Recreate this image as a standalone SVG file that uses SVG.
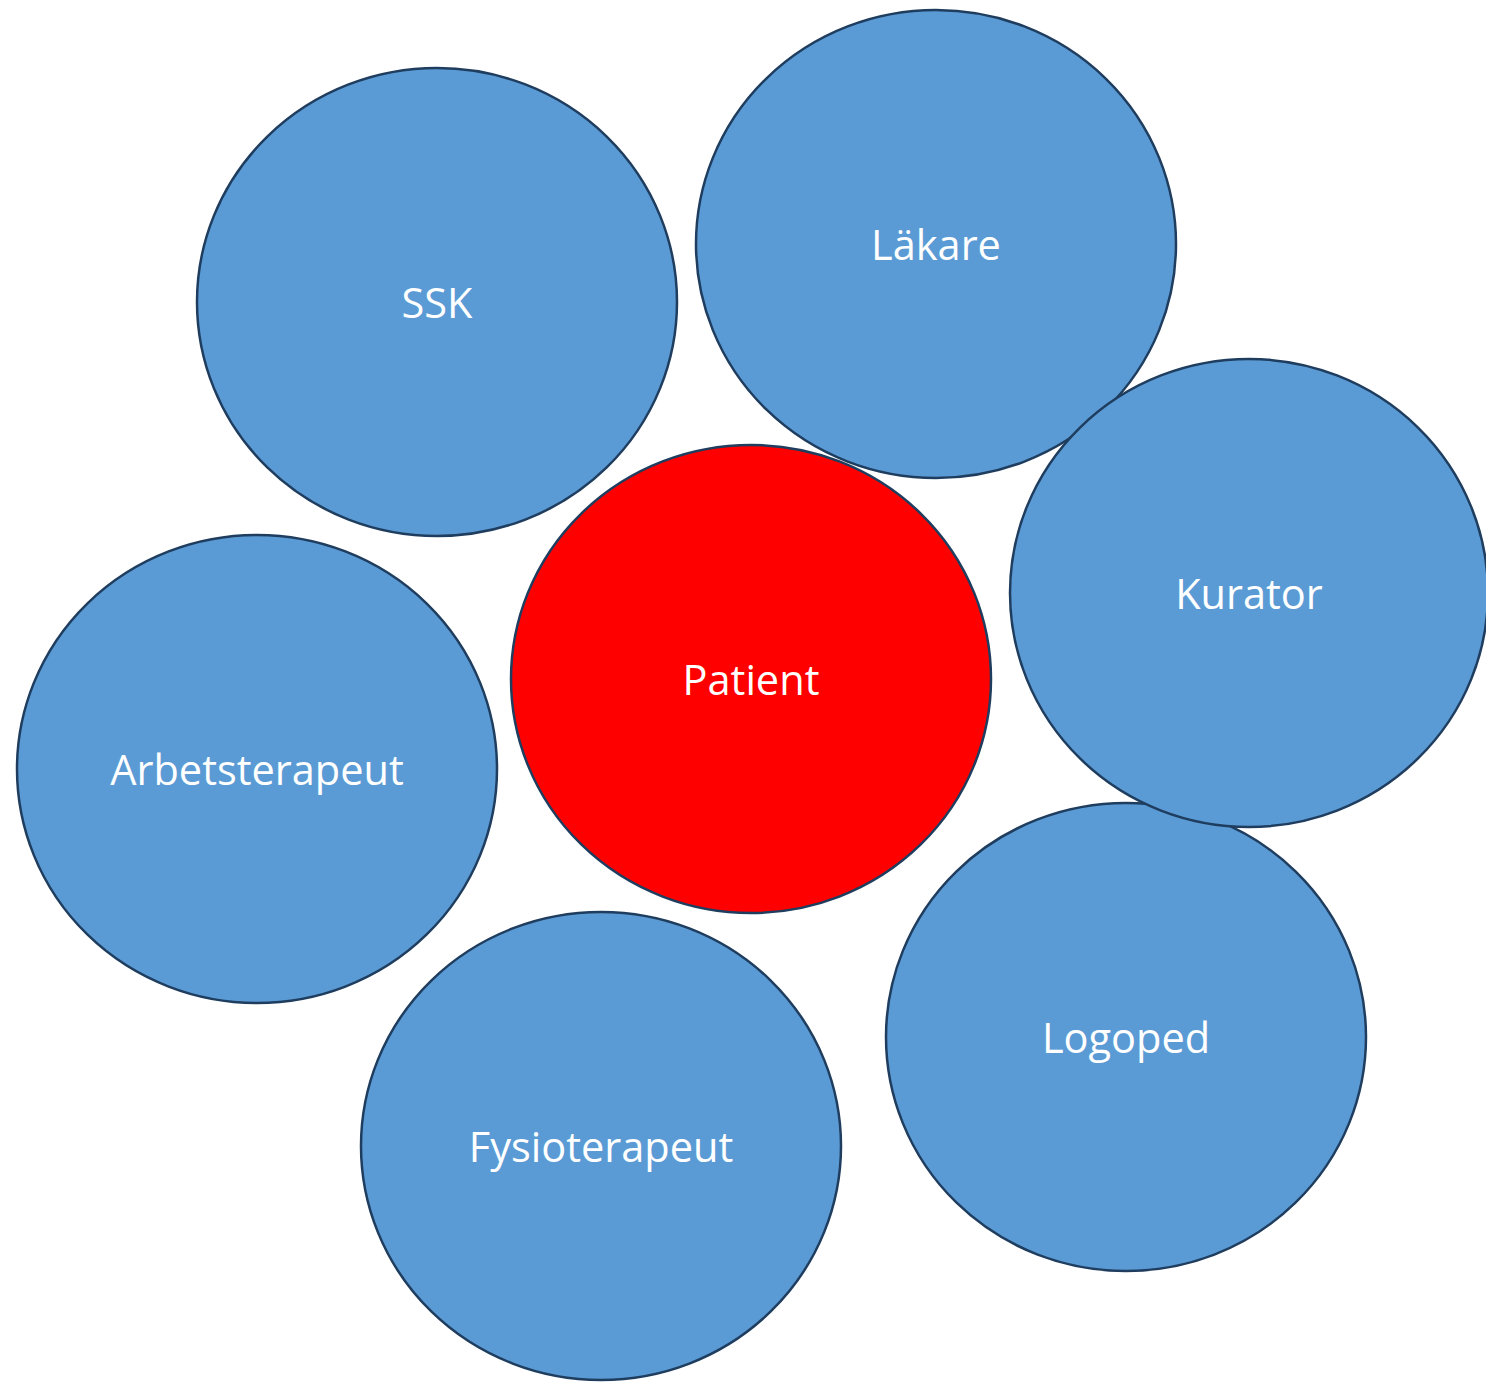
<svg xmlns="http://www.w3.org/2000/svg" width="1486" height="1382" viewBox="0 0 1486 1382">
  <style>
    .role ellipse { fill: #5B9BD5; stroke: #1F3D5E; stroke-width: 2.5; }
    #patient ellipse { fill: #FF0000; }
    text { font-family: "Open Sans", "Noto Sans", "Liberation Sans", sans-serif; font-size: 41.5px; fill: #FFFFFF; text-anchor: middle; dominant-baseline: central; }
  </style>
  <rect width="1486" height="1382" fill="#FFFFFF"/>
  <g id="connectors"/>
  <g id="ssk" class="role">
    <ellipse cx="437" cy="302" rx="240" ry="234"/>
    <text x="437" y="302">SSK</text>
  </g>
  <g id="lakare" class="role">
    <ellipse cx="936" cy="244" rx="240" ry="234"/>
    <text x="936" y="244">Läkare</text>
  </g>
  <g id="logoped" class="role">
    <ellipse cx="1126" cy="1037" rx="240" ry="234"/>
    <text x="1126" y="1037">Logoped</text>
  </g>
  <g id="kurator" class="role">
    <ellipse cx="1249" cy="593" rx="239" ry="234"/>
    <text x="1249" y="593">Kurator</text>
  </g>
  <g id="patient" class="role">
    <ellipse cx="751" cy="679" rx="240" ry="234"/>
    <text x="751" y="679">Patient</text>
  </g>
  <g id="arbetsterapeut" class="role">
    <ellipse cx="257" cy="769" rx="240" ry="234"/>
    <text x="257" y="769">Arbetsterapeut</text>
  </g>
  <g id="fysioterapeut" class="role">
    <ellipse cx="601" cy="1146" rx="240" ry="234"/>
    <text x="601" y="1146">Fysioterapeut</text>
  </g>
</svg>
